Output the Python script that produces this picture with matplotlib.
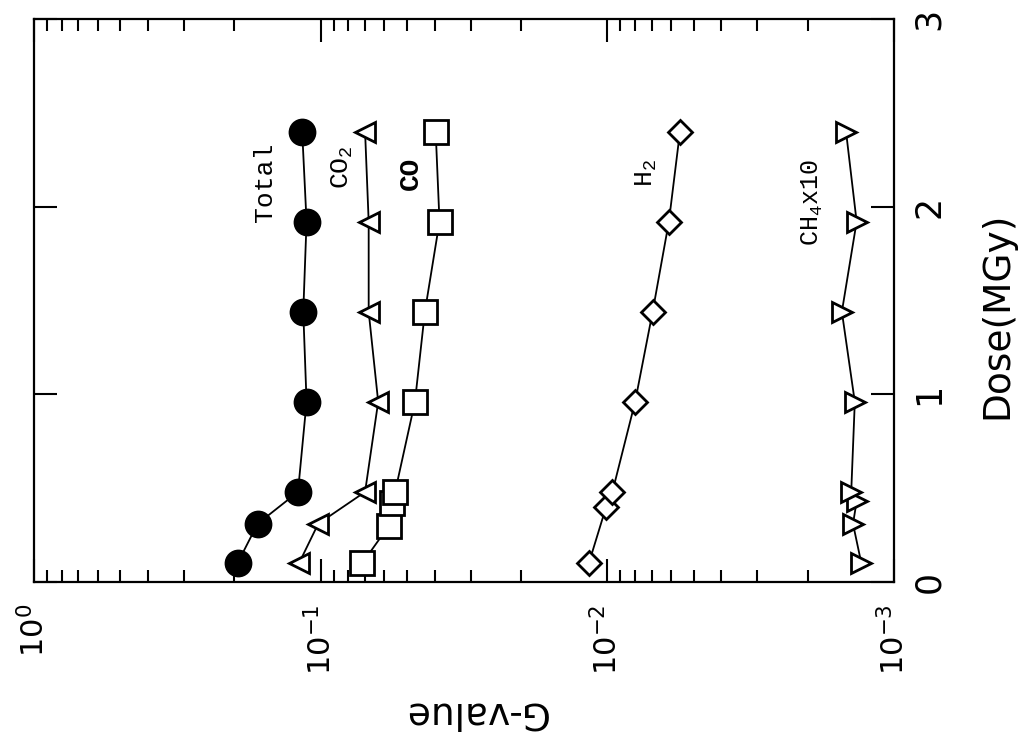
import matplotlib
matplotlib.use("Agg")
import matplotlib.pyplot as plt
from matplotlib.ticker import LogLocator, NullFormatter

# data: dose in MGy, G-value (molecules/100 eV)
dose_total = [0.10, 0.31, 0.48, 0.96, 1.44, 1.92, 2.40]
g_total = [0.195, 0.166, 0.120, 0.112, 0.115, 0.112, 0.116]

dose_co2 = [0.10, 0.31, 0.48, 0.96, 1.44, 1.92, 2.40]
g_co2 = [0.119, 0.102, 0.070, 0.063, 0.068, 0.068, 0.070]

dose_co = [0.10, 0.30, 0.42, 0.48, 0.96, 1.44, 1.92, 2.40]
g_co = [0.0716, 0.0578, 0.0566, 0.0550, 0.0469, 0.0433, 0.0385, 0.0397]

dose_h2 = [0.10, 0.40, 0.48, 0.96, 1.44, 1.92, 2.40]
g_h2 = [0.0116, 0.0101, 0.0096, 0.0080, 0.00695, 0.0061, 0.00558]

dose_ch4 = [0.10, 0.31, 0.43, 0.48, 0.96, 1.44, 1.92, 2.40]
g_ch4 = [0.00130, 0.00139, 0.00135, 0.00141, 0.00137, 0.00152, 0.00135, 0.00147]

g_ticks = [1, 0.1, 0.01, 0.001]
g_ticklabels = [r'$\mathregular{10^{0}}$', r'$\mathregular{10^{-1}}$',
                r'$\mathregular{10^{-2}}$', r'$\mathregular{10^{-3}}$']
dose_ticks = [0, 1, 2, 3]

plt.rcParams['font.family'] = 'DejaVu Sans'

fig = plt.figure(figsize=(10.2, 7.35), dpi=100)
# the whole plot is turned on its side: G-value runs horizontally, dose vertically
ax = fig.add_axes([34/1020, 1-582/735, 860/1020, 563/735])

lkw = dict(color='k', lw=1.3, mec='k', mew=2)
ax.plot(g_total, dose_total, marker='o', ms=18, mfc='k', **lkw)
ax.plot(g_co2, dose_co2, marker='<', ms=14.5, mfc='w', **lkw)
ax.plot(g_co, dose_co, marker='s', ms=17, mfc='w', **lkw)
ax.plot(g_h2, dose_h2, marker='D', ms=12, mfc='w', **lkw)
ax.plot(g_ch4, dose_ch4, marker='>', ms=14.5, mfc='w', **lkw)

ax.set_xscale('log')
ax.set_xlim(1, 1e-3)
ax.set_ylim(0, 3)

ax.set_xticks(g_ticks)
ax.set_xticklabels(g_ticklabels)
ax.xaxis.set_minor_locator(LogLocator(base=10, subs=range(2, 10)))
ax.xaxis.set_minor_formatter(NullFormatter())
ax.set_yticks(dose_ticks)

for sp in ax.spines.values():
    sp.set_linewidth(1.6)

ax.tick_params(axis='x', which='major', direction='in', top=True, bottom=True,
               length=16.5, width=1.5, pad=16, labelsize=22, labelrotation=90)
ax.tick_params(axis='x', which='minor', direction='in', top=True, bottom=True,
               length=8.5, width=1.5)
ax.tick_params(axis='y', which='major', direction='in', left=True, right=True,
               labelleft=False, labelright=True, length=16.5, width=1.5,
               pad=13, labelsize=25, labelrotation=90)
for lab in ax.get_yticklabels():
    lab.set_va('center')

# axis titles
fig.text(997/1020, 1-315/735, 'Dose(MGy)', rotation=90, ha='center', va='center',
         fontsize=27)
fig.text(475/1020, 1-712/735, 'G-value', rotation=180, ha='center', va='center',
         fontsize=27)

# species labels
mono = 'Liberation Mono'
ax.text(0.156, 2.13, 'Total', rotation=90, ha='center', va='center',
        family=mono, fontsize=19)
ax.text(0.0843, 2.21, r'CO$\mathregular{_2}$', rotation=90, ha='center', va='center',
        family=mono, fontsize=19)
ax.text(0.0484, 2.18, 'CO', rotation=90, ha='center', va='center',
        family=mono, fontsize=20, fontweight='bold')
ax.text(0.00728, 2.18, r'H$\mathregular{_2}$', rotation=90, ha='center', va='center',
        family=mono, fontsize=19)
ax.text(0.00193, 2.02, r'CH$\mathregular{_4}$x10', rotation=90, ha='center', va='center',
        family=mono, fontsize=18)

fig.savefig('out.png', dpi=100)
